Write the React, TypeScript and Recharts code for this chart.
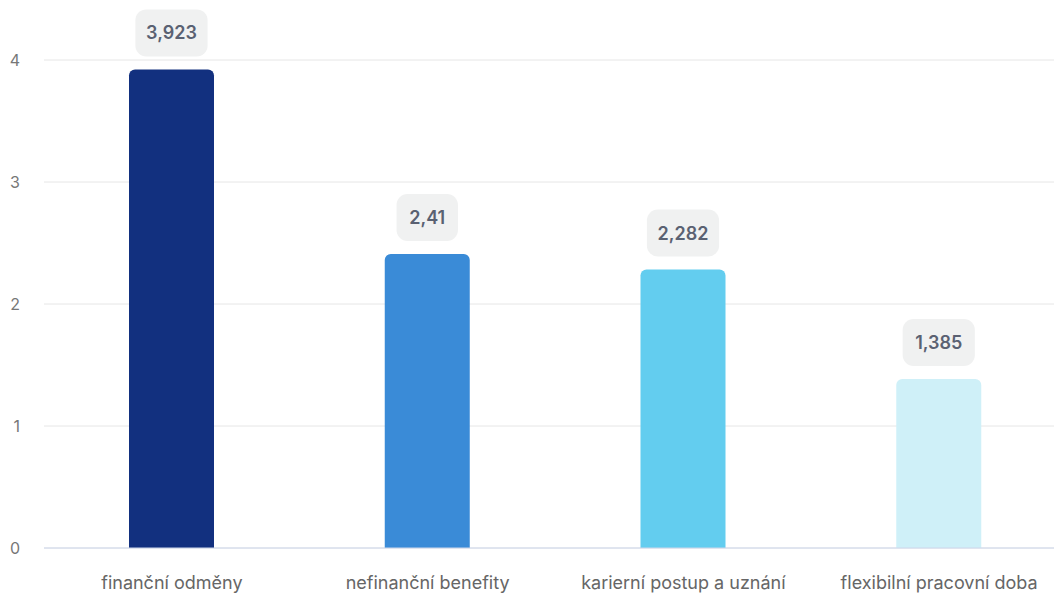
import React from "react";
import { BarChart, Bar, XAxis, YAxis, CartesianGrid, Cell, LabelList } from "recharts";

const categories = ["finanční odměny", "nefinanční benefity", "karierní postup a uznání", "flexibilní pracovní doba"];
const values = [3.923, 2.41, 2.282, 1.385];
const valueLabels = ["3,923", "2,41", "2,282", "1,385"];
const colors = ["#12307f", "#3a8bd7", "#63cdef", "#cff0f8"];
const yTicks = [0, 1, 2, 3, 4];

const data = categories.map((c, i) => ({ name: c, value: values[i], label: valueLabels[i] }));

const textWidth = (s: string) => {
  let w = 0;
  for (const ch of s) w += ch === "," ? 5 : 10.8;
  return w;
};

const ValueLabel = (props: any) => {
  const { x, y, width, index } = props;
  const s = valueLabels[index];
  const bw = textWidth(s) + 24;
  const bh = 47;
  const cx = x + width / 2;
  const bottom = y - 13;
  return (
    <g>
      <rect x={cx - bw / 2} y={bottom - bh} width={bw} height={bh} rx={11} ry={11} fill="#f0f1f1" />
      <text x={cx} y={bottom - bh / 2} dy="0.36em" textAnchor="middle" fontFamily="Inter, sans-serif" fontSize={18} fontWeight={600} fill="#5a6172">
        {s}
      </text>
    </g>
  );
};

export default function App() {
  return (
    <div style={{ position: "absolute", left: 0, top: 0, width: 1054, height: 594, overflow: "hidden", background: "#fff" }}>
      <BarChart width={1070} height={594} data={data} margin={{ top: 60, right: 3, bottom: 0, left: 0 }} barSize={85}>
        <CartesianGrid vertical={false} stroke="#e6e6e6" />
        <XAxis
          dataKey="name"
          height={46}
          tickLine={false}
          axisLine={{ stroke: "#ccd6eb" }}
          tickSize={0}
          tickMargin={28}
          interval={0}
          tick={{ fontFamily: "Inter, sans-serif", fontSize: 18, fill: "#666666" }}
        />
        <YAxis
          width={44}
          domain={[0, 4]}
          ticks={yTicks}
          axisLine={false}
          tickLine={false}
          tickSize={0}
          tickMargin={24}
          tick={{ fontFamily: "Inter, sans-serif", fontSize: 16, fill: "#777777" }}
        />
        <Bar dataKey="value" isAnimationActive={false} radius={[6, 6, 0, 0]}>
          {data.map((d, i) => (
            <Cell key={d.name} fill={colors[i]} />
          ))}
          <LabelList dataKey="value" content={<ValueLabel />} />
        </Bar>
      </BarChart>
    </div>
  );
}
